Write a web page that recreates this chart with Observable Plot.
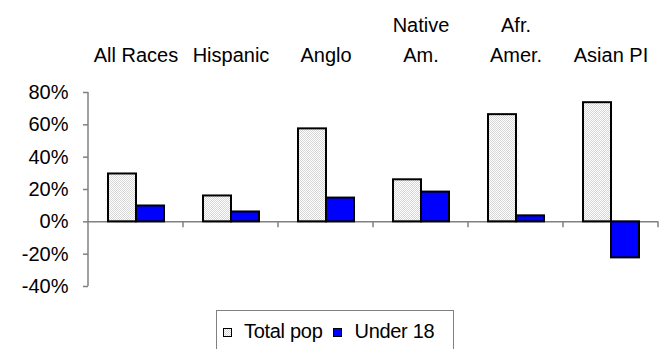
<!DOCTYPE html>
<html><head><meta charset="utf-8">
<script src="https://cdn.jsdelivr.net/npm/d3@7"></script>
<script src="https://cdn.jsdelivr.net/npm/@observablehq/plot@0.6"></script>
<style>
body{margin:0;background:#fff;font-family:"Liberation Sans",Arial,sans-serif;}
#wrap{position:relative;width:661px;height:349px;overflow:hidden;}
#legend{position:absolute;left:216px;top:310px;width:238px;height:60px;border:1px solid #808080;border-bottom:none;
  font-size:20px;line-height:20px;padding-top:10px;box-sizing:border-box;white-space:nowrap;color:#000;letter-spacing:-0.3px;}
.sw{display:inline-block;width:7px;height:7px;border:1.5px solid #000;vertical-align:1px;}
</style></head><body>
<svg width="0" height="0" style="position:absolute"><defs>
<pattern id="dots" width="2" height="2" patternUnits="userSpaceOnUse">
<rect width="2" height="2" fill="#ffffff"/><rect width="1" height="1" fill="#d6d6d6"/><rect x="1" y="1" width="1" height="1" fill="#d6d6d6"/>
</pattern></defs></svg>
<div id="wrap">
<div id="chart"></div>
<div id="legend"></div>
</div>
<script>
const categories = ["All Races","Hispanic","Anglo","Native\nAm.","Afr.\nAmer.","Asian PI"];
const seriesNames = ["Total pop","Under 18"];
const totalPop = [29.6, 16.0, 57.5, 26.0, 66.3, 73.7];
const under18 = [9.8, 6.1, 14.7, 18.4, 3.7, -22.3];
const yTicks = [-40, -20, 0, 20, 40, 60, 80];
const seriesFill = ["url(#dots)", "#0000ff"];

const rows = categories.flatMap((c, i) => [
  {category: c, series: seriesNames[0], value: totalPop[i]},
  {category: c, series: seriesNames[1], value: under18[i]}
]);

const plot = Plot.plot({
  width: 661, height: 306,
  marginLeft: 88, marginRight: 3, marginTop: 92, marginBottom: 20,
  style: {fontFamily: "'Liberation Sans', Arial, sans-serif", fontSize: "20px", color: "#000", background: "#fff", overflow: "visible"},
  fx: {domain: categories, padding: 0, label: null},
  x: {domain: seriesNames, paddingInner: 0, paddingOuter: 0.667, axis: null},
  y: {domain: [yTicks[0], yTicks[yTicks.length - 1]], label: null},
  color: {domain: seriesNames, range: seriesFill},
  marks: [
    Plot.axisFx({anchor: "top", tickSize: 0, tickPadding: 31, lineHeight: 1.5, fontSize: 20, label: null}),
    Plot.axisY({ticks: yTicks, tickSize: 5, tickPadding: 15, tickFormat: d => d + "%", stroke: "#808080", strokeWidth: 1.5, fontSize: 20, label: null}),
    Plot.ruleY([0], {stroke: "#808080", strokeWidth: 1.5}),
    Plot.barY(rows, {fx: "category", x: "series", y: "value", fill: "series", stroke: "#000", strokeWidth: 2})
  ]
});
document.getElementById("chart").append(plot);

// y-axis line and category boundary ticks, positioned with the plot's own scales
const fxS = plot.scale("fx"), yS = plot.scale("y");
const svg = d3.select(plot.tagName.toLowerCase() === "svg" ? plot : plot.querySelector("svg"));
const g = svg.append("g").attr("stroke", "#808080").attr("stroke-width", 1.5);
const y0 = yS.apply(0);
for (const c of categories) {
  const xr = fxS.apply(c) + fxS.bandwidth;
  g.append("line").attr("x1", xr).attr("x2", xr).attr("y1", y0).attr("y2", y0 + 6);
}
const xl = fxS.apply(categories[0]);
g.append("line").attr("x1", xl).attr("x2", xl)
  .attr("y1", yS.apply(yTicks[yTicks.length - 1])).attr("y2", yS.apply(yTicks[0]));

const legend = document.getElementById("legend");
seriesNames.forEach((s, i) => {
  const sw = document.createElement("span");
  sw.className = "sw";
  sw.style.background = i === 0 ? "repeating-conic-gradient(#d6d6d6 0 25%, #fff 0 50%) 0 0/2px 2px" : seriesFill[i];
  sw.style.marginLeft = i === 0 ? "6px" : "11px";
  sw.style.marginRight = "12px";
  legend.append(sw, document.createTextNode(s));
});
</script>
</body></html>
